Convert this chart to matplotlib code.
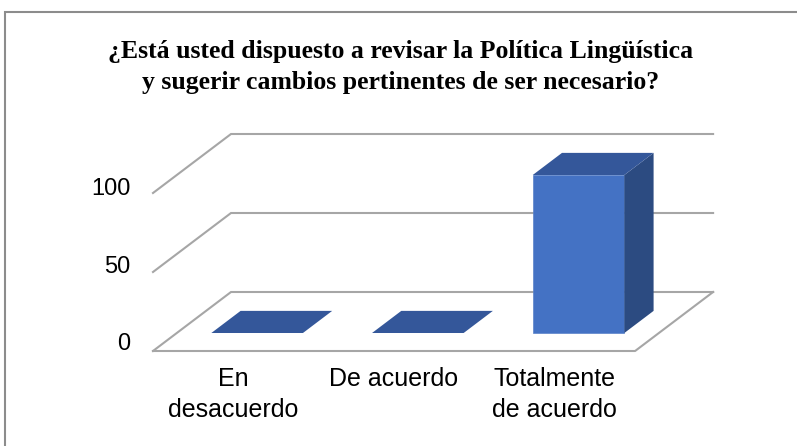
import matplotlib
matplotlib.use("Agg")
import matplotlib.pyplot as plt
from matplotlib.patches import Rectangle

# Data
categories = ["En\ndesacuerdo", "De acuerdo", "Totalmente\nde acuerdo"]
values = [0, 0, 100]
ticks = [0, 50, 100]
title_lines = ["¿Está usted dispuesto a revisar la Política Lingüística",
               "y sugerir cambios pertinentes de ser necesario?"]

# Look
FRONT = "#4472C4"
TOP = "#34579A"
SIDE = "#2C4B81"
GRID = "#A6A6A6"
W, H = 797, 446

# oblique projection (depth 1 -> shift in data units)
DDX = 78 / 160.7
DDY = 59 / 1.58
D0, D1 = 0.305, 0.68
BAR_W = 0.57

fig = plt.figure(figsize=(W / 100, H / 100), dpi=100)

# axes placed so that one category = 160.7 px and one value unit = 1.58 px
x0_px, y0_px = 153, 351
ymax = 140
ax = fig.add_axes([x0_px / W, (H - y0_px) / H,
                   (3 + DDX) * 160.7 / W, ymax * 1.58 / H])
ax.set_xlim(0, 3 + DDX)
ax.set_ylim(0, ymax)
ax.axis("off")

n = len(categories)

# walls / gridlines
for t in ticks:
    ax.plot([0, DDX, n + DDX], [t, t + DDY, t + DDY], color=GRID, lw=1.5,
            zorder=1, clip_on=False, solid_joinstyle="miter")
# floor edge
ax.plot([0, n, n + DDX], [0, 0, DDY], color=GRID, lw=1.5, zorder=1,
        clip_on=False)

# bars
for i, v in enumerate(values):
    xl = i + (1 - BAR_W) / 2
    xr = xl + BAR_W
    ox0, oy0 = D0 * DDX, D0 * DDY
    ox1, oy1 = D1 * DDX, D1 * DDY
    if v > 0:
        ax.fill([xl + ox0, xr + ox0, xr + ox0, xl + ox0],
                [oy0, oy0, oy0 + v, oy0 + v], color=FRONT, lw=0.5,
                ec="#5A82C9", zorder=3, clip_on=False)
        ax.fill([xr + ox0, xr + ox1, xr + ox1, xr + ox0],
                [oy0, oy1, oy1 + v, oy0 + v], color=SIDE, lw=0, zorder=3,
                clip_on=False)
    ax.fill([xl + ox0, xr + ox0, xr + ox1, xl + ox1],
            [oy0 + v, oy0 + v, oy1 + v, oy1 + v], color=TOP, lw=0, zorder=3,
            clip_on=False)

# value labels
for t in ticks:
    ax.text(-0.14, t * 0.98 + 4.4, str(t), ha="right", va="center",
            fontsize=17, family="Liberation Sans", clip_on=False)

# category labels
for i, c in enumerate(categories):
    ax.text(i + 0.5, -10, c, ha="center", va="top", fontsize=18,
            family="Liberation Sans", linespacing=1.38, clip_on=False)

# title
fig.text(401 / W, 1 - 58 / H, title_lines[0], ha="center", va="baseline",
         fontsize=18.5, fontweight="bold", family="Liberation Serif")
fig.text(401 / W, 1 - 89 / H, title_lines[1], ha="center", va="baseline",
         fontsize=18.5, fontweight="bold", family="Liberation Serif")

# chart border
fig.add_artist(Rectangle((5 / W, -0.1), 1.2, 1 - 12 / H + 0.1,
                         transform=fig.transFigure, fill=False,
                         ec="#8C8C8C", lw=1.5))

fig.savefig("out.png", dpi=100)
